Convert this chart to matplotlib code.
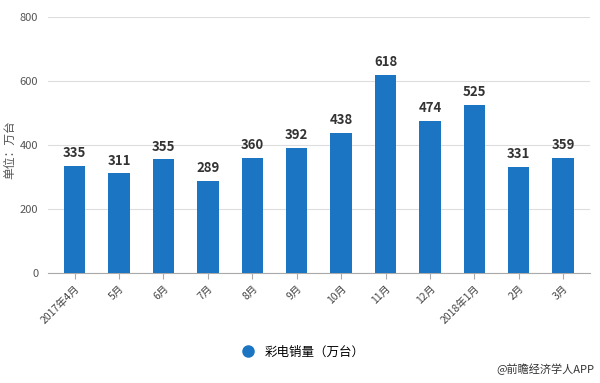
import matplotlib.pyplot as plt
from matplotlib.lines import Line2D

plt.rcParams['font.family'] = ['Noto Sans CJK SC', 'DejaVu Sans']

months = ['2017年4月', '5月', '6月', '7月', '8月', '9月', '10月', '11月', '12月',
          '2018年1月', '2月', '3月']
sales = [335, 311, 355, 289, 360, 392, 438, 618, 474, 525, 331, 359]
bar_color = '#1b75c2'

fig = plt.figure(figsize=(6, 3.83), dpi=100)
ax = fig.add_axes([0.08, 0.287, 0.903, 0.669])

x = range(len(months))
ax.bar(x, sales, width=0.48, color=bar_color, zorder=3)
for xi, v in zip(x, sales):
    ax.text(xi, v + 18, str(v), ha='center', va='bottom', fontsize=9.5,
            fontweight='bold', color='#333333', zorder=4)

ax.set_ylim(0, 800)
ax.set_xlim(-0.6, len(months) - 0.4)
ax.set_yticks([0, 200, 400, 600, 800])
ax.yaxis.grid(True, color='#dddddd', linewidth=0.8, zorder=0)
ax.tick_params(axis='y', length=0, labelsize=8, labelcolor='#555555', pad=7)
ax.set_xticks(list(x))
ax.set_xticklabels(months, rotation=45, ha='right', rotation_mode='anchor',
                   fontsize=7.5, color='#444444')
ax.tick_params(axis='x', length=4, color='#aaaaaa')
for side in ['top', 'right', 'left']:
    ax.spines[side].set_visible(False)
ax.spines['bottom'].set_color('#aaaaaa')
fig.text(0.017, 0.61, '单位：万台', rotation=90, ha='center', va='center',
         fontsize=8.5, color='#555555')

handle = Line2D([], [], marker='o', linestyle='none', markersize=8,
                markerfacecolor=bar_color, markeredgecolor=bar_color)
fig.legend([handle], ['彩电销量（万台）'], loc='center', bbox_to_anchor=(0.5, 0.081),
           frameon=False, fontsize=9, handletextpad=0.4)

fig.text(0.99, 0.035, '@前瞻经济学人APP', ha='right', va='center', fontsize=8, color='#333333')

plt.savefig('out.png')
